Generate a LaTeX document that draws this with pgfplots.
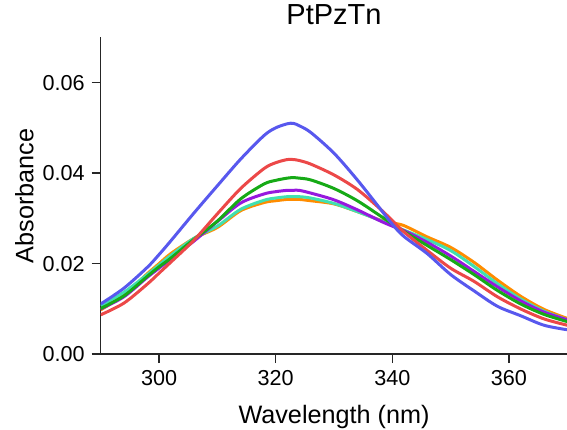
\documentclass[border=0pt]{standalone}
\usepackage{fontspec}
\setmainfont{Liberation Sans}
\usepackage{pgfplots}
\pgfplotsset{compat=1.18}
\usepackage{pgfplotstable}

\definecolor{cblue}{RGB}{88,88,238}
\definecolor{cred}{RGB}{236,72,72}
\definecolor{cgreen}{RGB}{22,170,22}
\definecolor{cpurple}{RGB}{150,24,222}
\definecolor{ccyan}{RGB}{64,224,176}
\definecolor{corange}{RGB}{255,140,0}

\pgfplotstableread{
x blue red green purple cyan orange
290 0.0111 0.0087 0.0101 0.0100 0.0107 0.0098
294 0.0146 0.0113 0.0129 0.0127 0.0137 0.0131
298 0.0192 0.0155 0.0172 0.0170 0.0176 0.0178
300 0.0220 0.0179 0.0193 0.0190 0.0197 0.0200
302 0.0250 0.0203 0.0212 0.0210 0.0218 0.0222
306 0.0312 0.0252 0.0254 0.0250 0.0256 0.0256
310 0.0372 0.0310 0.0294 0.0293 0.0283 0.0280
314 0.0431 0.0366 0.0343 0.0334 0.0320 0.0317
318 0.0483 0.0410 0.0376 0.0354 0.0340 0.0335
320 0.0500 0.0423 0.0384 0.0359 0.0345 0.0339
322 0.0509 0.0430 0.0389 0.0362 0.0348 0.0342
323 0.0510 0.0430 0.0390 0.0362 0.0348 0.0342
324 0.0505 0.0428 0.0389 0.0362 0.0348 0.0342
326 0.0490 0.0420 0.0385 0.0356 0.0345 0.0339
330 0.0444 0.0396 0.0366 0.0341 0.0333 0.0332
334 0.0385 0.0364 0.0339 0.0319 0.0315 0.0315
338 0.0320 0.0320 0.0305 0.0294 0.0295 0.0296
340 0.0287 0.0295 0.0288 0.0283 0.0284 0.0290
342 0.0260 0.0270 0.0271 0.0273 0.0274 0.0284
346 0.0222 0.0229 0.0240 0.0247 0.0253 0.0259
350 0.0176 0.0190 0.0209 0.0217 0.0229 0.0236
354 0.0140 0.0161 0.0176 0.0183 0.0194 0.0203
358 0.0106 0.0127 0.0141 0.0149 0.0156 0.0164
362 0.0085 0.0100 0.0111 0.0118 0.0122 0.0128
366 0.0064 0.0078 0.0088 0.0093 0.0095 0.0099
370 0.0054 0.0064 0.0072 0.0076 0.0076 0.0079
}\datatable

\begin{document}
\begin{tikzpicture}
\useasboundingbox (-50.35pt,-37.4pt) rectangle (233.15pt,177.1pt);
\begin{axis}[
  scale only axis,
  width=233.3pt, height=158.45pt,
  xmin=290, xmax=370, ymin=0, ymax=0.07,
  xtick={300,320,340,360},
  ytick={0,0.02,0.04,0.06},
  scaled y ticks=false,
  yticklabel style={/pgf/number format/fixed, /pgf/number format/fixed zerofill, /pgf/number format/precision=2},
  /pgf/number format/assume math mode=true,
  axis x line*=bottom, axis y line*=left,
  tick align=outside,
  major tick length=4.5pt,
  axis line style={black!85, line width=0.8pt},
  every tick/.style={black!85, line width=0.8pt},
  tick label style={font=\fontsize{10.8}{12}\selectfont, text=black},
  label style={font=\fontsize{12.6}{14}\selectfont},
  xlabel={Wavelength (nm)},
  ylabel={Absorbance},
  xlabel style={at={(axis description cs:0.5,0)}, anchor=base, yshift=-34.5pt},
  ylabel style={at={([xshift=-33.7pt]axis description cs:0,0.5)}, anchor=base},
  title={PtPzTn},
  title style={font=\fontsize{14.5}{16}\selectfont, at={(axis description cs:0.5,1)}, anchor=base, yshift=0.65pt},
  every axis plot/.append style={line width=1.5pt, smooth, tension=0.5, no markers},
]
\addplot[corange] table[x=x, y=orange] {\datatable};
\addplot[ccyan] table[x=x, y=cyan] {\datatable};
\addplot[cpurple] table[x=x, y=purple] {\datatable};
\addplot[cgreen] table[x=x, y=green] {\datatable};
\addplot[cred] table[x=x, y=red] {\datatable};
\addplot[cblue] table[x=x, y=blue] {\datatable};
\end{axis}
\end{tikzpicture}
\end{document}
